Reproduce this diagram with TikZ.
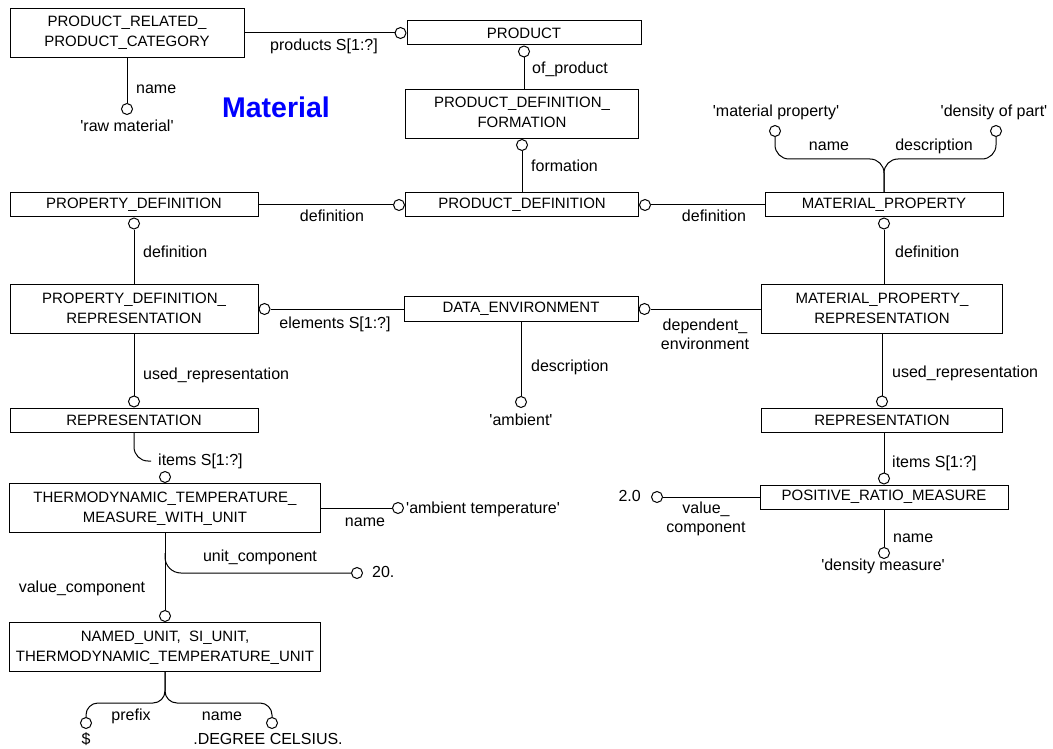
\documentclass[tikz,border=0pt]{standalone}
\usepackage{fontspec}
\setmainfont{Liberation Sans}
\usetikzlibrary{positioning}
\newcommand{\qs}{\textquotesingle}

\begin{document}
\begin{tikzpicture}[
  x=1pt, y=-1pt,
  font=\fontsize{15}{20}\selectfont,
  entbox/.style={rectangle, draw, line width=1pt, fill=white, inner sep=0pt, minimum height=24pt},
  entbox2/.style={entbox, minimum height=49pt},
  endcirc/.style={circle, draw, line width=1pt, fill=white, inner sep=0pt, minimum size=11pt},
  lbl/.style={inner sep=0pt, text height=11pt, text depth=3pt, font=\fontsize{16}{19}\selectfont},
  lbl2/.style={inner sep=0pt, align=center, font=\fontsize{16}{19}\selectfont},
  link/.style={line width=1pt},
  forkline/.style={link, rounded corners=14pt}
]
  \path[use as bounding box, fill=white] (0,0) rectangle (1053,749);

  \node[entbox2, minimum width=234pt] (prpc) at (127,33) {
    \begin{tabular}{c}
      PRODUCT\_RELATED\_ \\
      PRODUCT\_CATEGORY
    \end{tabular}
  };
  \node[entbox, minimum width=234pt] (product) at (524,33) {PRODUCT};
  \node[entbox2, minimum width=233pt] (pdf) at (522,114) {
    \begin{tabular}{c}
      PRODUCT\_DEFINITION\_ \\
      FORMATION
    \end{tabular}
  };
  \node[entbox, minimum width=233pt] (pd) at (522,205) {PRODUCT\_DEFINITION};
  \node[entbox, minimum width=248pt] (propdef) at (134,205) {PROPERTY\_DEFINITION};
  \node[entbox2, minimum width=248pt] (pdr) at (134,309) {
    \begin{tabular}{c}
      PROPERTY\_DEFINITION\_ \\
      REPRESENTATION
    \end{tabular}
  };
  \node[entbox, minimum width=248pt] (repl) at (134,420) {REPRESENTATION};
  \node[entbox, minimum width=234pt, minimum height=25pt] (dataenv) at (521,309) {DATA\_ENVIRONMENT};
  \node[entbox, minimum width=238pt] (mp) at (884,205) {MATERIAL\_PROPERTY};
  \node[entbox2, minimum width=241pt] (mpr) at (882,309) {
    \begin{tabular}{c}
      MATERIAL\_PROPERTY\_ \\
      REPRESENTATION
    \end{tabular}
  };
  \node[entbox, minimum width=241pt] (repr) at (882,420) {REPRESENTATION};
  \node[entbox, minimum width=248pt] (prm) at (884,497) {POSITIVE\_RATIO\_MEASURE};
  \node[entbox2, minimum width=311pt] (ttm) at (165,508) {
    \begin{tabular}{c}
      THERMODYNAMIC\_TEMPERATURE\_ \\
      MEASURE\_WITH\_UNIT
    \end{tabular}
  };
  \node[entbox2, minimum width=311pt] (nunit) at (165,647) {
    \begin{tabular}{@{}c@{}}
      NAMED\_UNIT,\ \ SI\_UNIT, \\
      THERMODYNAMIC\_TEMPERATURE\_UNIT
    \end{tabular}
  };

  \node[endcirc, left=0pt of product] (productl) {};
  \node[endcirc, below=0pt of product] (productb) {};
  \node[endcirc, below=0pt of pdf] (pdfb) {};
  \node[endcirc, left=0pt of pd] (pdleft) {};
  \node[endcirc, right=0pt of pd] (pdright) {};
  \node[endcirc, below=0pt of propdef] (propdefb) {};
  \node[endcirc, right=0pt of pdr] (pdrr) {};
  \node[endcirc, above=0pt of repl] (replt) {};
  \node[endcirc, right=0pt of dataenv] (dataenvr) {};
  \node[endcirc, below=0pt of mp] (mpb) {};
  \node[endcirc, above=0pt of repr] (reprt) {};
  \node[endcirc, above=0pt of prm] (prmt) {};
  \node[endcirc, above=0pt of ttm] (ttmt) {};
  \node[endcirc, above=0pt of nunit] (nunitt) {};

  \node[endcirc] (rawc) at (127,109) {};
  \node[endcirc] (ambc) at (521,402) {};
  \node[endcirc] (mpnamec) at (775,131) {};
  \node[endcirc] (mpdescc) at (996,131) {};
  \node[endcirc] (ttmnamec) at (398,508) {};
  \node[endcirc] (unitc) at (357,573) {};
  \node[endcirc] (valc) at (657,497) {};
  \node[endcirc] (prmnamec) at (884,553) {};
  \node[endcirc] (prefixc) at (86,723) {};
  \node[endcirc] (unamec) at (272,723) {};

  \coordinate (mpfork) at (884,159);
  \coordinate (nufork) at (165,703);
  \coordinate (ucstart) at (165,553);
  \coordinate (ucturn) at (165,573);
  \coordinate (itturn) at (134,461);
  \coordinate (itend) at (151,461);

  \draw[link] (prpc.east) -- (productl);
  \draw[link] (productb) -- (productb |- pdf.north);
  \draw[link] (pdfb) -- (pdfb |- pd.north);
  \draw[link] (propdef.east) -- (pdleft);
  \draw[link] (pdright) -- (mp.west);
  \draw[link] (propdefb) -- (propdefb |- pdr.north);
  \draw[link] (pdrr) -- (dataenv.west);
  \draw[link] (pdr.south) -- (replt);
  \draw[link] (dataenvr) -- (dataenvr -| mpr.west);
  \draw[link] (dataenv.south) -- (ambc);
  \draw[link] (mpb) -- (mpb |- mpr.north);
  \draw[link] (mpr.south) -- (reprt);
  \draw[link] (prmt |- repr.south) -- (prmt);
  \draw[link] (prm.west) -- (valc);
  \draw[link] (prm.south) -- (prmnamec);
  \draw[link] (prpc.south) -- (rawc);
  \draw[link] (ttm.east) -- (ttmnamec);
  \draw[link] (ttm.south) -- (nunitt);
  \draw[forkline] (mp.north) -- (mpfork) -| (mpnamec.south);
  \draw[forkline] (mp.north) -- (mpfork) -| (mpdescc.south);
  \draw[forkline, rounded corners=12pt] (nunit.south) -- (nufork) -| (prefixc.north);
  \draw[forkline, rounded corners=12pt] (nunit.south) -- (nufork) -| (unamec.north);
  \draw[forkline, rounded corners=16pt] (ucstart) -- (ucturn) -- (unitc);
  \draw[forkline] (repl.south) -- (itturn) -- (itend);

  \node[font=\fontsize{28.5}{30}\selectfont\bfseries, text=blue] (title) at (276,107) {Material};

  \node[lbl, anchor=west] (prodlbl) at (270,47) {products S[1:?]};
  \node[lbl, anchor=west] (rawlbl) at (136,90) {name};
  \node[lbl] (rawval) at (127,128) {\qs raw material\qs};
  \node[lbl, anchor=west] (oflbl) at (532,70) {of\_product};
  \node[lbl, anchor=west] (formlbl) at (531,168) {formation};
  \node[lbl] (mpnameval) at (776,113) {\qs material property\qs};
  \node[lbl] (mpdescval) at (994,113) {\qs density of part\qs};
  \node[lbl] (mpnamelbl) at (829,147) {name};
  \node[lbl] (mpdesclbl) at (934,147) {description};
  \node[lbl] (def1lbl) at (332,218) {definition};
  \node[lbl] (def2lbl) at (714,218) {definition};
  \node[lbl, anchor=west] (def3lbl) at (143,253) {definition};
  \node[lbl, anchor=west] (def4lbl) at (895,253) {definition};
  \node[lbl] (elemlbl) at (335,324) {elements S[1:?]};
  \node[lbl2] (deplbl) at (705,334) {dependent\_\\environment};
  \node[lbl, anchor=west] (desclbl) at (531,367) {description};
  \node[lbl] (ambval) at (521,421) {\qs ambient\qs};
  \node[lbl, anchor=west] (used1lbl) at (143,375) {used\_representation};
  \node[lbl, anchor=west] (used2lbl) at (892,373) {used\_representation};
  \node[lbl, anchor=west] (items1lbl) at (158,461) {items S[1:?]};
  \node[lbl, anchor=west] (items2lbl) at (892,463) {items S[1:?]};
  \node[lbl] (ttmnamelbl) at (365,522) {name};
  \node[lbl, anchor=west] (ttmnameval) at (406,509) {\qs ambient temperature\qs};
  \node[lbl] (unitlbl) at (260,557) {unit\_component};
  \node[lbl, anchor=west] (unitval) at (372,573) {20.};
  \node[lbl] (vallbl) at (82,588) {value\_component};
  \node[lbl, anchor=east] (valval) at (641,497) {2.0};
  \node[lbl2] (val2lbl) at (706,519) {value\_\\component};
  \node[lbl, anchor=west] (prmnamelbl) at (893,538) {name};
  \node[lbl] (prmnameval) at (883,566) {\qs density measure\qs};
  \node[lbl] (prefixlbl) at (131,716) {prefix};
  \node[lbl] (unamelbl) at (222,716) {name};
  \node[lbl] (prefixval) at (86,740) {\$};
  \node[lbl] (unameval) at (268,740) {.DEGREE\ CELSIUS.};
\end{tikzpicture}
\end{document}
